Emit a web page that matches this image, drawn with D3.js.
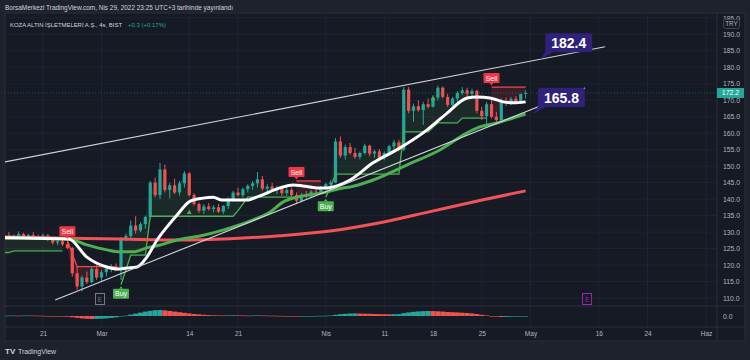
<!DOCTYPE html>
<html><head><meta charset="utf-8">
<script src="https://cdn.jsdelivr.net/npm/d3@7"></script>
<style>
html,body{margin:0;padding:0;background:#1e222d;}
svg{display:block;font-family:"Liberation Sans",Arial,sans-serif;}
</style></head><body>
<svg id="c" width="750" height="360"></svg>
<script>
// ---------- DATA ----------
const barIndex = d3.range(-2, 106);
const open  = [128.5,129.0,128.6,128.9,129.4,128.5,129.1,128.8,128.2,129.0,127.6,126.8,127.2,126.3,125.2,117.5,113.5,116.2,114.8,118.8,116.2,117.8,118.9,119.6,118.6,127.8,128.8,132.0,130.5,132.4,134.6,145.0,141.2,149.0,142.8,144.2,142.0,144.8,147.8,141.2,138.5,136.5,137.8,137.0,137.5,136.2,137.9,140.0,142.0,141.2,143.0,144.0,144.8,146.0,143.2,143.8,142.8,143.5,141.8,142.8,141.2,139.5,141.2,140.8,142.3,142.0,143.5,144.5,145.0,157.5,153.2,155.8,154.0,152.8,154.0,156.2,153.8,154.5,152.5,154.0,156.0,157.2,155.0,173.2,166.8,168.2,167.0,168.8,168.0,170.8,173.8,171.0,168.6,170.5,172.2,173.0,172.0,172.8,166.8,165.2,168.8,165.0,164.0,169.8,169.0,170.4,169.5,171.9];
const high  = [129.5,130.0,129.3,130.2,129.8,129.5,130.0,129.3,129.6,129.4,128.0,127.5,127.6,127.0,125.5,119.5,116.8,118.0,119.5,120.0,118.5,119.2,120.3,120.5,128.5,129.5,133.5,134.8,133.0,135.0,145.5,146.5,151.0,150.5,145.0,146.2,145.5,148.5,148.2,141.8,139.0,138.5,138.8,138.2,138.5,138.2,140.5,142.5,143.5,143.5,144.5,145.5,148.2,147.0,144.5,145.0,144.0,144.2,143.5,143.5,142.0,141.8,142.5,142.8,143.5,144.0,145.0,145.8,158.5,159.0,156.5,157.0,155.5,154.5,156.8,156.5,155.0,155.2,154.5,156.5,158.0,158.0,174.0,174.0,169.0,170.0,169.5,170.5,171.5,174.5,174.2,172.0,171.0,172.8,174.0,173.8,173.5,173.2,168.0,169.5,170.0,166.5,170.5,170.8,171.0,171.2,172.0,173.0];
const low   = [128.0,128.5,128.0,128.5,128.2,128.1,128.6,127.8,128.0,127.2,126.2,126.0,125.8,124.8,116.5,112.5,112.0,114.2,114.5,115.5,115.0,116.5,117.8,118.2,115.5,127.2,128.0,129.5,130.0,131.0,134.0,140.5,140.0,142.0,140.2,141.5,141.0,143.5,140.8,138.0,135.8,135.5,136.5,136.0,135.8,135.5,137.0,139.5,140.8,140.5,142.0,142.8,143.5,142.5,141.8,142.5,141.5,141.0,141.0,140.5,138.8,139.0,140.2,140.5,141.5,141.8,142.8,143.5,144.8,152.5,152.0,153.5,152.2,152.0,153.5,153.0,152.5,152.0,151.8,153.5,155.0,154.5,154.5,166.0,163.5,166.5,162.5,167.5,167.8,170.0,170.5,168.0,168.2,169.5,171.5,171.0,170.5,166.0,164.0,162.5,164.5,163.2,163.5,168.2,168.5,168.8,169.0,170.5];
const close = [129.0,128.6,128.9,129.4,128.5,129.1,128.8,128.2,129.0,127.6,126.8,127.2,126.3,125.2,117.5,113.5,116.2,114.8,118.8,116.2,117.8,118.9,119.6,118.6,127.8,128.8,132.0,130.5,132.4,134.6,145.0,141.2,149.0,142.8,144.2,142.0,144.8,147.8,141.2,138.5,136.5,137.8,137.0,137.5,136.2,137.9,140.0,142.0,141.2,143.0,144.0,144.8,146.0,143.2,143.8,142.8,143.5,141.8,142.8,141.2,139.5,141.2,140.8,142.3,142.0,143.5,144.5,145.0,157.5,153.2,155.8,154.0,152.8,154.0,156.2,153.8,154.5,152.5,154.0,156.0,157.2,155.0,173.2,166.8,168.2,167.0,168.8,168.0,170.8,173.8,171.0,168.6,170.5,172.2,173.0,172.0,172.8,166.8,165.2,168.8,165.0,164.0,169.8,169.0,170.4,169.5,171.9,172.2];

// trailing stop level per bar
const stopLevel = [123.8,123.8,
  124.3,124.3,124.3,124.3,124.3,124.3,124.3,124.3,124.3,124.3,124.3,
  127.5,123.5,119.5,119.5,119.5,119.5,119.5,119.5,119.5,119.5,119.5,
  114.0,118.5,123.0,123.0,123.0,123.0,
  134.8,134.8,134.8,134.8,134.8,134.8,134.8,134.8,134.8,134.8,134.8,134.8,134.8,134.8,134.8,134.8,134.8,134.8,
  136.5,138.5,140.6,140.6,140.6,140.6,140.6,140.6,140.6,140.6,140.6,140.6,
  145.5,145.5,145.5,145.5,145.5,145.5,
  140.6,143.5,147.6,147.6,147.6,147.6,147.6,147.6,147.6,147.6,147.6,147.6,147.6,147.6,147.6,147.6,
  160.4,160.4,160.4,160.4,160.4,160.4,161.8,163.1,163.1,163.1,163.1,163.1,
  164.6,164.6,164.6,164.6,164.6,164.6,
  174.0,174.0,174.0,174.0,174.0,174.0,174.0,174.0];

const signalIdx  = [11, 22, 58, 64, 98];
const signalType = ['Sell', 'Buy', 'Sell', 'Buy', 'Sell'];

// moving averages: [bar index, price]
const whiteLine = [[-2,128.3],[11.3,127.9],[15,122.4],[19.1,119.4],[21.2,118.8],[23.2,119.1],[25.3,119.4],[27.3,122.4],[29.4,127.6],[31.4,131.5],[33.5,135.2],[36.2,139.4],[38.8,140.3],[40.9,140.6],[42.7,139.7],[47.8,139.7],[50.5,141.0],[54.6,143.4],[57.3,144.3],[59.3,144.0],[62.2,143.4],[64.3,143.4],[66.3,144.0],[69,145.8],[73.7,151.0],[79.2,155.5],[84.8,161.0],[88.9,166.1],[93,170.7],[95,171.0],[97.7,170.7],[100.4,169.5],[102.4,169.2],[105,169.5]];
const greenLine = [[-2,128.2],[11.3,127.9],[15,126.1],[19.1,124.6],[21.8,124.0],[24.5,124.0],[27.3,125.2],[30,126.1],[33.5,127.6],[38.2,128.8],[42.9,130.6],[49.1,133.7],[52.6,136.1],[55.2,139.1],[58.1,140.6],[60.8,141.3],[64.3,142.2],[67.5,143.4],[69,143.7],[73.7,145.8],[80.7,150.4],[87.4,154.9],[93,160.1],[95.6,161.9],[99.1,163.1],[102.4,164.6],[105,165.8]];
const redLine   = [[-2,128.5],[9.5,128.2],[21.8,127.9],[34.1,127.6],[44.4,128.0],[54.6,128.9],[64.9,130.3],[75.1,132.8],[85.4,136.2],[95.6,139.6],[105,142.5]];

// trend lines [index, price] and their labels
const trendUpper = [[-1.8,151.3],[121.3,186.2]];
const trendLower = [[8.5,109.4],[117.2,173.7]];
const trendLabelIdx = [108, 106.5];
const trendLabelVal = [182.4, 165.8];

// earnings markers and small triangles
const earnIdx = [17.7, 117.6];
const earnColor = ['#787b86', '#9c27b0'];
const triIdx = [36, 86];
const triVal = [136.1, 170.6];

// oscillator histogram (lower pane)
const hist = [0.15,0.2,0.2,0.15,0.2,0.25,0.2,0.15,0.1,0.05,0.0,-0.1,-0.2,
  -0.35,-0.6,-0.9,-1.2,-1.4,-1.5,-1.45,-1.35,-1.2,-1.0,-0.7,-0.3,0.2,0.7,1.2,1.7,2.2,2.6,2.9,3.0,
  2.8,2.5,2.2,1.9,1.6,1.3,1.0,0.8,0.6,0.45,0.35,0.3,0.25,0.3,0.35,0.3,0.25,0.2,0.25,0.3,0.25,0.2,0.15,0.1,0.05,0.0,
  -0.05,-0.1,-0.08,-0.05,0.0,0.05,0.1,0.15,0.25,0.6,0.9,1.1,1.25,1.3,1.2,1.15,1.1,1.0,0.95,0.9,0.85,0.9,0.95,
  1.4,1.8,2.1,2.3,2.45,2.5,2.45,2.35,2.2,2.0,1.9,1.8,1.65,1.5,1.3,1.0,0.6,0.3,0.0,-0.3,-0.5,-0.45,-0.35,-0.3,-0.2,-0.1];

const yTicks = d3.range(110, 196, 5);
const xTickIdx = [6, 18, 36, 46, 64, 76, 86, 96, 106, 120, 130, 142];
const xTickLabels = ['21','Mar','14','21','Nis','11','18','25','May','16','24','Haz'];
const lastPrice = 172.2;

// ---------- DRAW ----------
const UP = '#26a69a', DN = '#ef5350';
const svg = d3.select('#c');
const x = d3.scaleLinear().domain([6, 96]).range([43, 481.75]);
const y = d3.scaleLinear().domain([110, 190]).range([298, 34.3]);
const yh = d3.scaleLinear().domain([-3, 3]).range([322, 310]);

const L = 5, R = 717, T = 13, B = 341, PANE = 306, AX = 327;

svg.append('rect').attr('x', 0).attr('y', 0).attr('width', 750).attr('height', 360).attr('fill', '#1e222d');
svg.append('rect').attr('x', L).attr('y', T).attr('width', 745 - L).attr('height', B - T).attr('fill', '#161a25').attr('stroke', '#2a2e39').attr('stroke-width', 1);

const defs = svg.append('defs');
defs.append('clipPath').attr('id', 'mainclip').append('rect').attr('x', L).attr('y', T).attr('width', R - L).attr('height', PANE - T);
defs.append('clipPath').attr('id', 'lowclip').append('rect').attr('x', L).attr('y', PANE).attr('width', R - L).attr('height', AX - PANE);
defs.append('clipPath').attr('id', 'axclip').append('rect').attr('x', R).attr('y', T + 1).attr('width', 30).attr('height', PANE - T - 1);

// grid
const grid = svg.append('g');
grid.selectAll('line.v').data(xTickIdx).join('line')
  .attr('x1', d => x(d)).attr('x2', d => x(d)).attr('y1', T).attr('y2', AX)
  .attr('stroke', '#1f2331').attr('stroke-width', 1);
grid.selectAll('line.h').data(yTicks).join('line')
  .attr('x1', L).attr('x2', R).attr('y1', d => y(d)).attr('y2', d => y(d))
  .attr('stroke', '#1f2331').attr('stroke-width', 1);

// separators
svg.append('line').attr('x1', L).attr('x2', 745).attr('y1', PANE).attr('y2', PANE).attr('stroke', '#2a2e39');
svg.append('line').attr('x1', L).attr('x2', 745).attr('y1', AX).attr('y2', AX).attr('stroke', '#2a2e39');
svg.append('line').attr('x1', R).attr('x2', R).attr('y1', T).attr('y2', B).attr('stroke', '#2a2e39');

const mainG = svg.append('g').attr('clip-path', 'url(#mainclip)');

// trend of trailing stop by signals
const trend = barIndex.map(d => {
  let t = 'up';
  signalIdx.forEach((s, j) => { if (d >= s) t = signalType[j] === 'Buy' ? 'up' : 'dn'; });
  return t;
});
const runs = [];
barIndex.forEach((d, k) => {
  if (!runs.length || runs[runs.length - 1].t !== trend[k]) runs.push({ t: trend[k], ks: [] });
  runs[runs.length - 1].ks.push(k);
});

// fills
const area = d3.area().x(k => x(barIndex[k])).y0(k => y(stopLevel[k])).y1(k => y(close[k]));
mainG.selectAll('path.fill').data(runs).join('path')
  .attr('d', r => area(r.ks))
  .attr('fill', r => r.t === 'up' ? 'rgba(76,175,80,0.11)' : 'rgba(242,54,69,0.16)');

// last price line
mainG.append('line').attr('x1', L).attr('x2', R).attr('y1', y(lastPrice)).attr('y2', y(lastPrice))
  .attr('stroke', UP).attr('stroke-opacity', 0.45).attr('stroke-dasharray', '1,2');

// candles
const bw = 3.2;
mainG.selectAll('line.wick').data(barIndex).join('line')
  .attr('x1', d => x(d)).attr('x2', d => x(d))
  .attr('y1', (d, k) => y(high[k])).attr('y2', (d, k) => y(low[k]))
  .attr('stroke', (d, k) => close[k] >= open[k] ? UP : DN).attr('stroke-width', 1);
mainG.selectAll('rect.body').data(barIndex).join('rect')
  .attr('x', d => x(d) - bw / 2).attr('width', bw)
  .attr('y', (d, k) => y(Math.max(open[k], close[k])))
  .attr('height', (d, k) => Math.max(1, Math.abs(y(open[k]) - y(close[k]))))
  .attr('fill', (d, k) => close[k] >= open[k] ? UP : DN);

// trailing stop lines
const sl = d3.line().x(k => x(barIndex[k])).y(k => y(stopLevel[k]));
mainG.selectAll('path.stop').data(runs).join('path')
  .attr('d', r => sl(r.ks)).attr('fill', 'none')
  .attr('stroke', r => r.t === 'up' ? '#4caf50' : '#f0474f').attr('stroke-width', 1.3);

// moving averages
const ma = d3.line().x(d => x(d[0])).y(d => y(d[1])).curve(d3.curveMonotoneX);
mainG.append('path').attr('d', ma(redLine)).attr('fill', 'none').attr('stroke', '#f05459').attr('stroke-width', 3);
mainG.append('path').attr('d', ma(greenLine)).attr('fill', 'none').attr('stroke', '#4caf50').attr('stroke-width', 3);
mainG.append('path').attr('d', ma(whiteLine)).attr('fill', 'none').attr('stroke', '#ffffff').attr('stroke-width', 3);

// trend lines
[trendUpper, trendLower].forEach(tl => {
  mainG.append('line').attr('x1', x(tl[0][0])).attr('y1', y(tl[0][1])).attr('x2', x(tl[1][0])).attr('y2', y(tl[1][1]))
    .attr('stroke', '#d1d4dc').attr('stroke-width', 1.1);
});

// triangles
mainG.selectAll('path.tri').data(triIdx).join('path')
  .attr('d', (d, k) => { const px = x(d), py = y(triVal[k]); return `M${px},${py - 2.5}L${px + 2.5},${py + 2}L${px - 2.5},${py + 2}Z`; })
  .attr('fill', '#4caf50');

// signal labels
signalIdx.forEach((s, j) => {
  const k = barIndex.indexOf(s);
  const px = x(s), py = y(stopLevel[k]);
  const sell = signalType[j] === 'Sell';
  const col = sell ? '#f23645' : '#4caf50';
  const g = mainG.append('g');
  const by = sell ? py - 14 : py + 4;
  g.append('rect').attr('x', px - 8).attr('y', by).attr('width', 16).attr('height', 10).attr('rx', 1).attr('fill', col);
  if (sell) g.append('path').attr('d', `M${px - 2},${by + 10}L${px + 2},${by + 10}L${px},${by + 12.5}Z`).attr('fill', col);
  else g.append('path').attr('d', `M${px - 2},${by}L${px + 2},${by}L${px},${by - 2.5}Z`).attr('fill', col);
  g.append('text').attr('x', px).attr('y', by + 7.6).attr('text-anchor', 'middle')
    .attr('font-size', 7).attr('fill', '#ffffff').text(signalType[j]);
});

// trend line labels
trendLabelIdx.forEach((d, k) => {
  const px = x(d), py = y(trendLabelVal[k]);
  svg.append('path').attr('d', `M${px},${py}L${px + 6},${py - 9}L${px + 13},${py - 7}Z`).attr('fill', '#30217a');
  svg.append('rect').attr('x', px + 5).attr('y', py - 26).attr('width', 47).attr('height', 19).attr('rx', 2).attr('fill', '#30217a');
  svg.append('text').attr('x', px + 28.5).attr('y', py - 11.5).attr('text-anchor', 'middle')
    .attr('font-size', 14).attr('font-weight', 'bold').attr('fill', '#ffffff').text(d3.format('.1f')(trendLabelVal[k]));
});

// earnings markers
earnIdx.forEach((d, k) => {
  const px = x(d);
  svg.append('rect').attr('x', px - 4.5).attr('y', 293.5).attr('width', 9).attr('height', 11)
    .attr('fill', '#161a25').attr('stroke', earnColor[k]).attr('stroke-width', 1);
  svg.append('text').attr('x', px).attr('y', 301.5).attr('text-anchor', 'middle').attr('font-size', 6.5)
    .attr('fill', earnColor[k]).text('E');
});

// histogram
const lowG = svg.append('g').attr('clip-path', 'url(#lowclip)');
lowG.selectAll('rect').data(barIndex).join('rect')
  .attr('x', d => x(d) - 2.45).attr('width', 4.9)
  .attr('y', (d, k) => Math.min(yh(0), yh(hist[k])))
  .attr('height', (d, k) => Math.max(0.6, Math.abs(yh(hist[k]) - yh(0))))
  .attr('fill', (d, k) => (k === 0 || hist[k] >= hist[k - 1]) ? UP : DN);

// y axis (clipped under the currency label at the top, as in the original)
const yAxis = d3.axisRight(y).tickValues(yTicks).tickFormat(d3.format('.1f')).tickSize(0).tickPadding(6);
const ya = svg.append('g').attr('clip-path', 'url(#axclip)').append('g').attr('transform', `translate(${R},0)`).call(yAxis);
ya.select('.domain').remove();
ya.selectAll('text').attr('font-size', 6.8).attr('fill', '#b2b5be').attr('font-family', 'Liberation Sans, Arial, sans-serif');
const yhAxis = d3.axisRight(yh).tickValues([0]).tickFormat(d3.format('.1f')).tickSize(0).tickPadding(6);
const yha = svg.append('g').attr('transform', `translate(${R},0)`).call(yhAxis);
yha.select('.domain').remove();
yha.selectAll('text').attr('font-size', 6.8).attr('fill', '#b2b5be').attr('font-family', 'Liberation Sans, Arial, sans-serif');

// TRY label
svg.append('rect').attr('x', 723.5).attr('y', 19.5).attr('width', 16).attr('height', 9).attr('rx', 2)
  .attr('fill', '#161a25').attr('stroke', '#434651');
svg.append('text').attr('x', 731.5).attr('y', 26.4).attr('text-anchor', 'middle').attr('font-size', 6.3).attr('fill', '#b2b5be').text('TRY');

// last price tag
svg.append('rect').attr('x', R).attr('y', y(lastPrice) - 5).attr('width', 27).attr('height', 10).attr('fill', UP);
svg.append('text').attr('x', R + 13.5).attr('y', y(lastPrice) + 2.5).attr('text-anchor', 'middle')
  .attr('font-size', 7).attr('fill', '#ffffff').text(d3.format('.1f')(lastPrice));

// x axis
const xAxis = d3.axisBottom(x).tickValues(xTickIdx).tickFormat((d, k) => xTickLabels[k]).tickSize(0).tickPadding(4);
const xa = svg.append('g').attr('transform', `translate(0,${AX})`).call(xAxis);
xa.select('.domain').remove();
xa.selectAll('text').attr('font-size', 6.5).attr('fill', '#b2b5be').attr('font-family', 'Liberation Sans, Arial, sans-serif');

// header texts
svg.append('text').attr('x', 5).attr('y', 10.3).attr('font-size', 7).attr('fill', '#d1d4dc')
  .attr('textLength', 228).attr('lengthAdjust', 'spacingAndGlyphs')
  .text('BorsaMerkezi TradingView.com, Nis 29, 2022 23:25 UTC+3 tarihinde yayınlandı');
svg.append('text').attr('x', 10).attr('y', 26.5).attr('font-size', 6).attr('fill', '#d1d4dc')
  .attr('textLength', 112).attr('lengthAdjust', 'spacingAndGlyphs')
  .text('KOZA ALTIN İŞLETMELERİ A.Ş., 4s, BIST');
svg.append('text').attr('x', 128).attr('y', 26.5).attr('font-size', 6).attr('fill', UP)
  .attr('textLength', 38).attr('lengthAdjust', 'spacingAndGlyphs')
  .text('+0.3 (+0.17%)');

// footer logo
svg.append('text').attr('x', 5).attr('y', 354).attr('font-size', 8).attr('font-weight', 'bold').attr('fill', '#d1d4dc').text('TV');
svg.append('text').attr('x', 18).attr('y', 354).attr('font-size', 7.5).attr('fill', '#d1d4dc')
  .attr('textLength', 38).attr('lengthAdjust', 'spacingAndGlyphs').text('TradingView');
</script>
</body></html>
